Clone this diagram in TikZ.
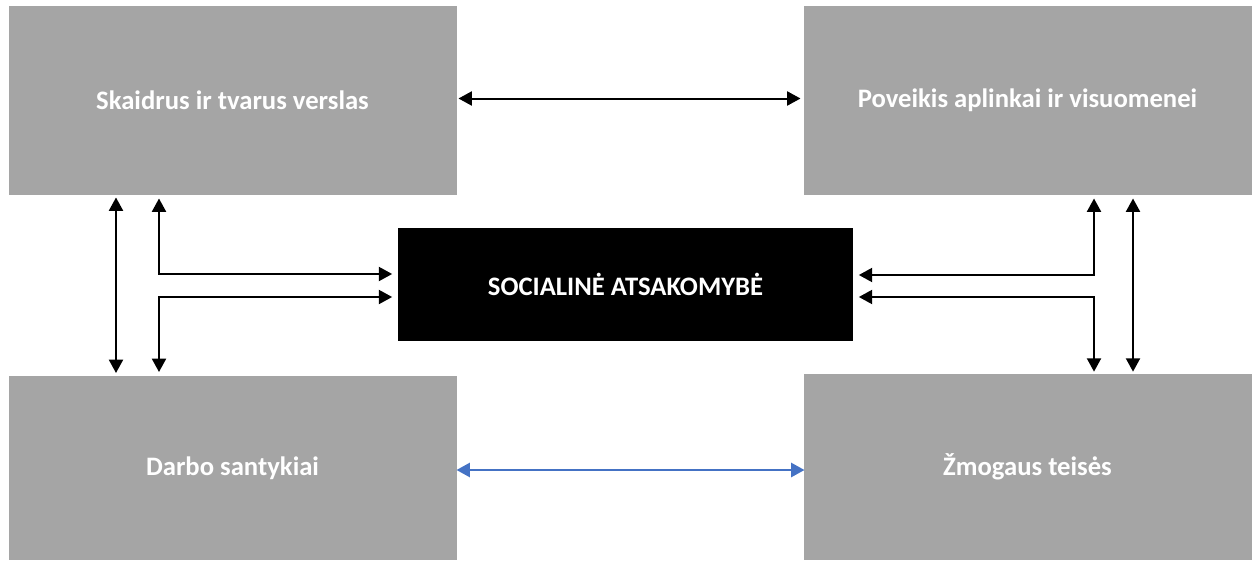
\documentclass[tikz,border=0pt]{standalone}
\usepackage{fontspec}
\setmainfont{Carlito}
\usepackage{tikz}
\usetikzlibrary{arrows.meta, calc}
\definecolor{boxgray}{HTML}{A5A5A5}
\definecolor{linkblue}{HTML}{4472C4}

\begin{document}
\begin{tikzpicture}[x=0.75pt,y=-0.75pt,>={Triangle[length=10pt,width=10.5pt]},line width=1.5pt,
		area/.style={fill=boxgray,text=white,font=\fontsize{20}{24}\selectfont\bfseries,minimum width=336pt,minimum height=141pt,inner sep=0pt},
		core/.style={fill=black,text=white,font=\fontsize{20}{24}\selectfont\bfseries,minimum width=341pt,minimum height=85pt,inner sep=0pt}]
			\useasboundingbox (0,0) rectangle (1255,560);
			\node[area] (skaid)  at (232.5,100.5) {Skaidrus ir tvarus verslas};
			\node[area] (poveik) at (1027.5,100.5) {Poveikis aplinkai ir visuomenei};
			\node[area, minimum height=138pt] (darbo) at (232.5,468) {Darbo santykiai};
			\node[area, minimum height=140pt] (zmog)  at (1027.5,467) {Žmogaus teisės};
			\node[core] (soc) at (625.5,284.5) {SOCIALINĖ ATSAKOMYBĖ};
			\draw[<->] ($(skaid.east)+(1,-2)$) -- ($(poveik.west)+(-2,-2)$);
			\draw[<->, linkblue, line width=1.8pt] ($(darbo.east)+(-1,2)$) -- ($(zmog.west)+(2,3)$);
			\draw[<->] ($(skaid.south -| 116,0)+(0,2)$) -- ($(darbo.north -| 116,0)+(0,-2)$);
			\draw[<->] ($(skaid.south -| 159,0)+(0,3)$) |- ($(soc.west)+(-5,-10.5)$);
			\draw[<->] ($(soc.west)+(-5,12.5)$) -| ($(darbo.north -| 159,0)+(0,-3)$);
			\draw[<->] ($(poveik.south -| 1094,0)+(0,3)$) |- ($(soc.east)+(5,-9.5)$);
			\draw[<->] ($(soc.east)+(5,12.5)$) -| ($(zmog.north -| 1094,0)+(0,-1)$);
			\draw[<->] ($(poveik.south -| 1133,0)+(0,3)$) -- ($(zmog.north -| 1133,0)+(0,-1)$);
		\end{tikzpicture}
\end{document}
